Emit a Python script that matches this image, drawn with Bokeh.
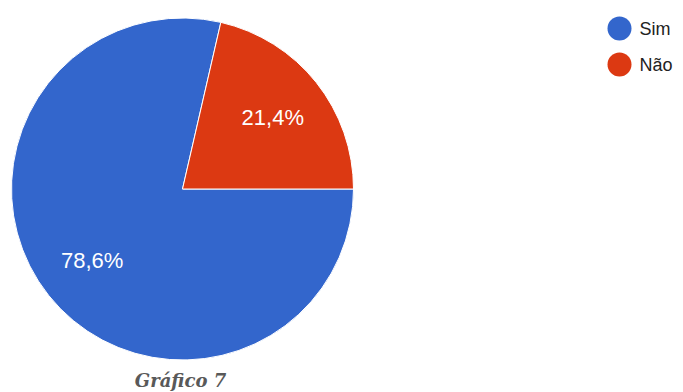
import numpy as np
from bokeh.plotting import figure
from bokeh.models import Range1d, ColumnDataSource
from bokeh.core.properties import value
from bokeh.embed import file_html
from bokeh.resources import INLINE

categories = ["Sim", "Não"]
values = [78.6, 21.4]
colors = ["#3366cc", "#dc3912"]
pct_labels = ["78,6%", "21,4%"]
caption = "Gráfico 7"

W, H = 683, 392
p = figure(width=W, height=H, x_range=Range1d(0, W), y_range=Range1d(0, H),
           output_backend="svg", toolbar_location=None, min_border=0)
p.axis.visible = False
p.grid.visible = False
p.outline_line_color = None
p.background_fill_color = "white"
p.border_fill_color = "white"

cx, cy, r = 182, H - 188.5, 171
vals = np.array(values, dtype=float)
frac = vals / vals.sum()
cum = np.concatenate([[0], np.cumsum(frac)])
theta_a = -cum[:-1] * 2 * np.pi   # start (clockwise from east)
theta_b = -cum[1:] * 2 * np.pi
mid = (theta_a + theta_b) / 2

src = ColumnDataSource(dict(start=theta_b, end=theta_a, color=colors,
                            lx=cx + 0.675 * r * np.cos(mid),
                            ly=cy + 0.675 * r * np.sin(mid),
                            lab=pct_labels))
p.wedge(x=cx, y=cy, radius=r, start_angle="start", end_angle="end",
        direction="anticlock", fill_color="color", line_color="white",
        line_width=1, source=src)
p.text(x="lx", y="ly", text="lab", source=src, text_color="white",
       text_font=value("Liberation Sans"), text_font_size="22px",
       text_align="center", text_baseline="middle")

# legend
leg_y = [H - 28, H - 64]
p.scatter(x=[619, 619], y=leg_y, size=24, marker="circle",
          fill_color=colors, line_color=None)
p.text(x=[639, 639], y=leg_y, text=categories, text_color="#222222",
       text_font=value("Liberation Sans"), text_font_size="18px",
       text_align="left", text_baseline="middle")

# caption
p.text(x=[180], y=[H - 380], text=[caption], text_color="#595959",
       text_font=value("DejaVu Serif"), text_font_size="18px",
       text_font_style="bold italic", text_align="center",
       text_baseline="middle")

open("out.html", "w").write(file_html(p, INLINE))
